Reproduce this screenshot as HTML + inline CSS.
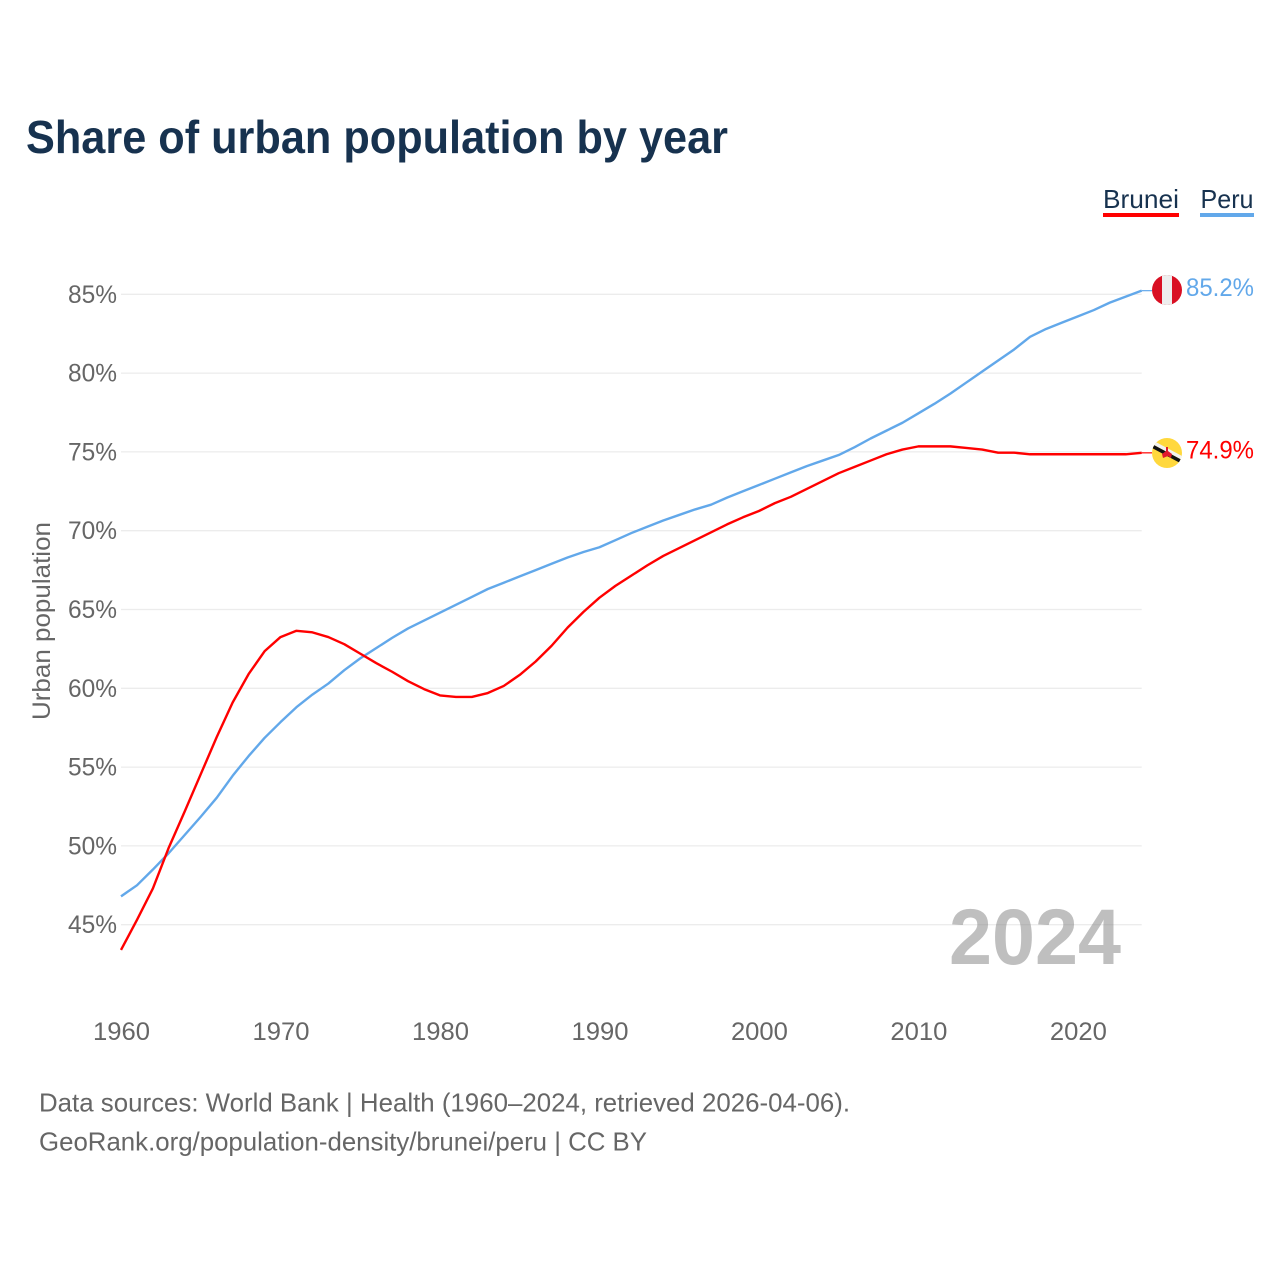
<!DOCTYPE html>
<html lang="en">
<head>
<meta charset="utf-8">
<title>Share of urban population by year</title>
<style>
  html, body { margin: 0; padding: 0; background: #fff; }
  svg { display: block; font-family: "Liberation Sans", sans-serif; }
</style>
</head>
<body>
<svg id="chart" xmlns="http://www.w3.org/2000/svg" width="1280" height="1280" viewBox="0 0 1280 1280">
  <rect x="0" y="0" width="1280" height="1280" fill="#ffffff"/>
  <text x="26" y="153" font-size="46" font-weight="700" fill="#17324f" textLength="702" lengthAdjust="spacingAndGlyphs">Share of urban population by year</text>

  <g>
    <text x="1103" y="208" font-size="26" fill="#17324f" textLength="76" lengthAdjust="spacingAndGlyphs">Brunei</text>
    <rect x="1103" y="213" width="76" height="4" fill="#ff0000"/>
  </g>
  <g>
    <text x="1200.500" y="208" font-size="26" fill="#17324f" textLength="53" lengthAdjust="spacingAndGlyphs">Peru</text>
    <rect x="1200" y="213" width="54" height="4" fill="#62a8ea"/>
  </g>

  <g id="grid"></g>
  <g id="y-ticks"></g>
  <g id="x-ticks"></g>
  <text transform="translate(50 621) rotate(-90)" text-anchor="middle" font-size="25" fill="#666666" textLength="198" lengthAdjust="spacingAndGlyphs">Urban population</text>

  <text x="949" y="964" font-size="79" font-weight="700" fill="#808080" fill-opacity="0.5" textLength="172" lengthAdjust="spacingAndGlyphs">2024</text>

  <g id="series"></g>

  <defs>
    <clipPath id="flag-clip-peru"><circle cx="1167" cy="290" r="15"/></clipPath>
    <clipPath id="flag-clip-brunei"><circle cx="1167" cy="453" r="15"/></clipPath>
  </defs>
  <g clip-path="url(#flag-clip-peru)">
    <rect x="1152" y="275" width="30" height="30" fill="#d91023"/>
    <rect x="1162" y="275" width="10" height="30" fill="#eeeeee"/>
  </g>
  <g clip-path="url(#flag-clip-brunei)">
    <rect x="1152" y="438" width="30" height="30" fill="#ffd83d"/>
    <polygon points="1150,439 1184,457 1184,461 1150,443" fill="#f2f2f2"/>
    <polygon points="1150,443 1184,461 1184,465 1150,447" fill="#111111"/>
    <path d="M1166 447 L1168 447 L1168 451 L1172 454 L1171 458 L1168 456 L1163 458 L1162 454 L1166 451 Z" fill="#e0182d"/>
  </g>

  <g id="value-labels"></g>

  <text x="39" y="1111.5" font-size="26" fill="#666666" textLength="811" lengthAdjust="spacingAndGlyphs">Data sources: World Bank | Health (1960–2024, retrieved 2026-04-06).</text>
  <text x="39" y="1150.5" font-size="26" fill="#666666" textLength="608" lengthAdjust="spacingAndGlyphs">GeoRank.org/population-density/brunei/peru | CC BY</text>
</svg>
<script>
const years = [1960,1961,1962,1963,1964,1965,1966,1967,1968,1969,1970,1971,1972,1973,1974,1975,1976,1977,1978,1979,1980,1981,1982,1983,1984,1985,1986,1987,1988,1989,1990,1991,1992,1993,1994,1995,1996,1997,1998,1999,2000,2001,2002,2003,2004,2005,2006,2007,2008,2009,2010,2011,2012,2013,2014,2015,2016,2017,2018,2019,2020,2021,2022,2023,2024];
const bruneiValues = [43.4,45.3,47.3,49.9,52.2,54.55,56.9,59.1,60.9,62.35,63.25,63.65,63.55,63.25,62.8,62.2,61.6,61.05,60.45,59.95,59.55,59.45,59.45,59.7,60.15,60.85,61.7,62.7,63.85,64.85,65.75,66.5,67.15,67.8,68.4,68.9,69.4,69.9,70.4,70.85,71.25,71.75,72.15,72.65,73.15,73.65,74.05,74.45,74.85,75.15,75.35,75.35,75.35,75.25,75.15,74.95,74.95,74.85,74.85,74.85,74.85,74.85,74.85,74.85,74.94];
const peruValues = [46.8,47.5,48.5,49.55,50.7,51.85,53.05,54.45,55.7,56.85,57.85,58.8,59.6,60.3,61.15,61.9,62.55,63.2,63.8,64.3,64.8,65.3,65.8,66.3,66.7,67.1,67.5,67.9,68.3,68.65,68.95,69.4,69.85,70.25,70.65,71.0,71.35,71.65,72.1,72.5,72.9,73.3,73.7,74.1,74.45,74.8,75.3,75.85,76.35,76.85,77.45,78.05,78.7,79.4,80.1,80.8,81.5,82.3,82.8,83.2,83.6,84.0,84.47,84.85,85.23];
const yTickValues = [45,50,55,60,65,70,75,80,85];
const xTickValues = [1960,1970,1980,1990,2000,2010,2020];
const bruneiLabel = "74.9%";
const peruLabel = "85.2%";

const SVG_NS = "http://www.w3.org/2000/svg";
const X0 = 121, X1 = 1141.7, Y45 = 924.7, Y85 = 294.3;
function xScale(year) {
  const first = years[0];
  const last = years[years.length - 1];
  return X0 + (year - first) / (last - first) * (X1 - X0);
}
function yScale(value) {
  return Y45 + (value - 45) / 40 * (Y85 - Y45);
}
function make(tag, parentId) {
  const el = document.createElementNS(SVG_NS, tag);
  document.getElementById(parentId).appendChild(el);
  return el;
}

yTickValues.forEach(function (v) {
  const line = make("line", "grid");
  
  
  line.setAttribute("x1", X0);
  line.setAttribute("x2", X1);
  line.setAttribute("y1", yScale(v));
  line.setAttribute("y2", yScale(v));
  line.setAttribute("stroke", "#ececec");
  line.setAttribute("stroke-width", "1.3");

  const label = make("text", "y-ticks");
  
  
  label.setAttribute("x", 117);
  label.setAttribute("y", yScale(v) + 8.5);
  label.setAttribute("text-anchor", "end");
  label.setAttribute("font-size", "25");
  label.setAttribute("fill", "#666666");
  label.setAttribute("textLength", "49");
  label.setAttribute("lengthAdjust", "spacingAndGlyphs");
  label.textContent = v + "%";
});

xTickValues.forEach(function (y) {
  const label = make("text", "x-ticks");
  
  
  label.setAttribute("x", xScale(y) + 0.5);
  label.setAttribute("y", 1040);
  label.setAttribute("text-anchor", "middle");
  label.setAttribute("font-size", "25");
  label.setAttribute("fill", "#666666");
  label.setAttribute("textLength", "57");
  label.setAttribute("lengthAdjust", "spacingAndGlyphs");
  label.textContent = y;
});

function linePoints(values) {
  return values.map(function (v, i) {
    return xScale(years[i]).toFixed(2) + "," + yScale(v).toFixed(2);
  }).join(" ");
}

const peruLine = make("polyline", "series");


peruLine.setAttribute("points", linePoints(peruValues));
peruLine.setAttribute("fill", "none");
peruLine.setAttribute("stroke", "#62a8ea");
peruLine.setAttribute("stroke-width", "2.4");
peruLine.setAttribute("stroke-linejoin", "round");

const bruneiLine = make("polyline", "series");


bruneiLine.setAttribute("points", linePoints(bruneiValues));
bruneiLine.setAttribute("fill", "none");
bruneiLine.setAttribute("stroke", "#ff0000");
bruneiLine.setAttribute("stroke-width", "2.4");
bruneiLine.setAttribute("stroke-linejoin", "round");

const peruEnd = yScale(peruValues[peruValues.length - 1]);
const bruneiEnd = yScale(bruneiValues[bruneiValues.length - 1]);

const peruLead = make("line", "series");


peruLead.setAttribute("x1", X1);
peruLead.setAttribute("x2", 1152);
peruLead.setAttribute("y1", peruEnd);
peruLead.setAttribute("y2", peruEnd);
peruLead.setAttribute("stroke", "#62a8ea");
peruLead.setAttribute("stroke-width", "1.2");

const bruneiLead = make("line", "series");


bruneiLead.setAttribute("x1", X1);
bruneiLead.setAttribute("x2", 1152);
bruneiLead.setAttribute("y1", bruneiEnd);
bruneiLead.setAttribute("y2", bruneiEnd);
bruneiLead.setAttribute("stroke", "#ff0000");
bruneiLead.setAttribute("stroke-width", "1.2");

const peruText = make("text", "value-labels");


peruText.setAttribute("x", 1186);
peruText.setAttribute("y", peruEnd + 5.5);
peruText.setAttribute("font-size", "25");
peruText.setAttribute("fill", "#62a8ea");
peruText.setAttribute("textLength", "68");
peruText.setAttribute("lengthAdjust", "spacingAndGlyphs");
peruText.textContent = peruLabel;

const bruneiText = make("text", "value-labels");


bruneiText.setAttribute("x", 1186);
bruneiText.setAttribute("y", bruneiEnd + 5.5);
bruneiText.setAttribute("font-size", "25");
bruneiText.setAttribute("fill", "#ff0000");
bruneiText.setAttribute("textLength", "68");
bruneiText.setAttribute("lengthAdjust", "spacingAndGlyphs");
bruneiText.textContent = bruneiLabel;
</script>
</body>
</html>
